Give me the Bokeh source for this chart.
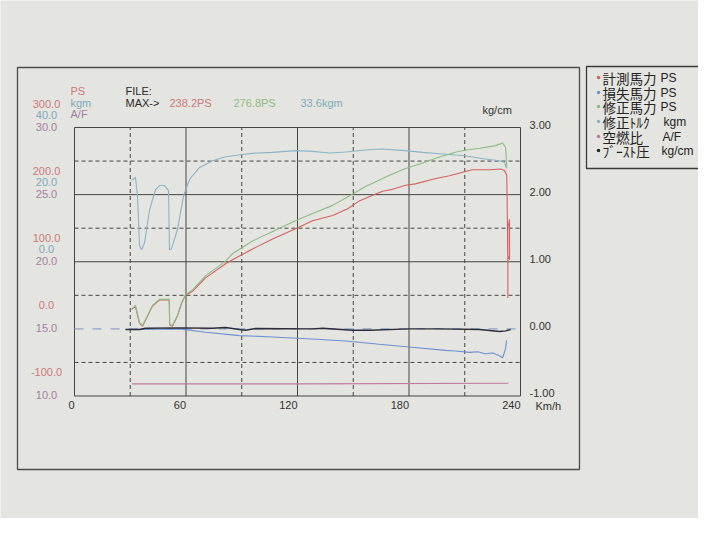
from bokeh.plotting import figure
from bokeh.models import Range1d
from bokeh.core.properties import value
from bokeh.embed import file_html
from bokeh.resources import INLINE

# ---------------- data ----------------
speed_grid = [0, 30, 60, 90, 120, 150, 180, 210, 240]
speed_ticks = [0, 60, 120, 180, 240]
boost_grid = [-1.0, -0.5, 0.0, 0.5, 1.0, 1.5, 2.0, 2.5, 3.0]
boost_ticks = [-1.0, 0.0, 1.0, 2.0, 3.0]
ps_ticks = [300, 200, 100, 0, -100]
kgm_ticks = [40, 20, 0]
af_ticks = [30, 25, 20, 15, 10]

# 計測馬力 (measured PS)
v_meas = [30.7, 32.8, 34.9, 36.6, 39.3, 42.0, 45.7, 48.4, 51.0, 51.2, 52.7, 55.4,
          57.6, 59.7, 63.5, 70.5, 81.3, 85.0, 95.8, 106.6, 118.9, 128.1, 138.9,
          147.0, 153.5, 160.4, 165.8, 171.2, 178.1, 183.5, 192.7, 201.8, 209.9,
          214.2, 223.4, 229.3, 231.4, 232.6, 233.0, 233.1, 234.1, 234.1, 233.2, 233.2]
ps_meas = [29, 34, 9, 4, 19, 34, 43, 43, 43, 6, 4, 19,
           38, 50, 56, 76, 97, 103, 119, 134, 149, 161, 169,
           179, 191, 199, 205, 208, 214, 216, 223, 228, 234,
           237, 237, 238.2, 236, 229, 150, 110, 103, 163, 150, 46]

# 損失馬力 (loss PS)
v_loss = [30.0, 56.5, 70.5, 88.8, 106.6, 128.0, 145.9, 164.0, 180.0, 199.7, 205.0,
          212.6, 217.0, 221.0, 225.0, 228.7, 230.4, 232.0, 232.5]
ps_loss = [-1, 0, -5, -10, -12, -15, -18, -23, -27, -32, -33,
           -35, -34, -37, -36, -40, -43, -29, -17]

# 修正馬力 (corrected PS)
v_corr = [31.2, 32.8, 34.9, 36.6, 39.3, 42.0, 45.7, 48.4, 51.0, 51.2, 52.7, 55.4,
          57.6, 59.7, 63.5, 70.5, 81.3, 85.0, 95.8, 106.6, 118.9, 128.1, 138.9,
          148.5, 156.6, 165.8, 169.5, 178.1, 187.3, 196.4, 205.0, 209.9, 218.0,
          226.6, 230.4, 232.0, 232.6]
ps_corr = [30, 35, 10, 5, 20, 35, 44, 44, 44, 7, 5, 20,
           39, 51, 58, 79, 101, 112, 131, 145, 161, 172, 184,
           199, 212, 224, 229, 239, 247, 256, 263, 266, 269,
           273, 276.8, 270, 240]

# 修正トルク (corrected torque, kgm)
v_torque = [30.7, 32.8, 33.9, 35.0, 36.1, 37.7, 40.4, 43.6, 45.7, 48.4, 50.6, 51.1,
            52.2, 55.4, 58.7, 61.9, 67.3, 74.3, 81.3, 89.3, 95.8, 106.6, 118.9,
            128.1, 137.3, 145.9, 156.6, 165.0, 178.1, 187.3, 196.4, 205.0, 209.9,
            220.0, 228.7, 231.4, 232.5]
kgm_torque = [24.2, 25.1, 19.7, 4.8, 3.6, 5.7, 15.5, 21.5, 22.7, 22.7, 21.2, 3.6,
              3.9, 9.6, 19.7, 24.5, 28.1, 30.1, 31.3, 31.9, 32.3, 32.6, 33.1,
              32.9, 32.4, 32.7, 33.3, 33.6, 33.1, 32.6, 32.2, 31.8, 31.6,
              30.7, 30.1, 29.6, 27.8]

# 空燃比 (A/F)
v_af = [31.0, 120.0, 233.5]
af_val = [10.9, 10.9, 10.95]

# ブースト圧 (boost, kg/cm)
v_boost = [27.4, 35.0, 38.2, 56.5, 74.3, 81.3, 88.8, 92.0, 97.4, 128.0, 133.5,
           149.6, 158.8, 180.3, 196.4, 218.0, 228.7, 232.0, 234.7]
boost = [-0.01, -0.01, 0.01, 0.015, 0.01, 0.02, -0.01, -0.02, 0.005, 0.0, 0.01,
         -0.02, -0.02, 0.0, 0.0, -0.01, -0.04, -0.03, -0.01]

max_texts = ["238.2PS", "276.8PS", "33.6kgm"]
legend_names = ["計測馬力", "損失馬力", "修正馬力", "修正ﾄﾙｸ", "空燃比", "ﾌﾞｰｽﾄ圧"]
legend_units = ["PS", "PS", "PS", "kgm", "A/F", "kg/cm"]

# ---------------- styling / layout ----------------
W, H = 698, 518
BG = "#e4e4e0"
C_MEAS = "#d8605e"
C_LOSS = "#6f8fd0"
C_CORR = "#8cbc84"
C_TORQ = "#8ab4c6"
C_AF = "#c07aa0"
C_BOOST = "#2c2c3a"
T_PS = "#cc7a78"
T_KGM = "#7eaabb"
T_AF = "#a2809e"
GRID = "#444444"
FONT = value("Liberation Sans")
JFONT = value("Noto Sans CJK JP")

# inner plot frame in canvas pixels
FX0, FX1 = 74, 520
FY_TOP, FY_BOT = 127, 395.5
ppx = (FX1 - FX0) / 240.0           # px per km/h
ppy = (FY_BOT - FY_TOP) / 4.0       # px per kg/cm

x_start = -FX0 / ppx
x_end = 240 + (W - FX1) / ppx
y_end = 3 + FY_TOP / ppy
y_start = -1 - (H - FY_BOT) / ppy

p = figure(width=W, height=H, output_backend="svg", toolbar_location=None,
           x_range=Range1d(x_start, x_end), y_range=Range1d(y_start, y_end),
           x_axis_type=None, y_axis_type=None, min_border=0)
p.grid.visible = False
p.outline_line_color = None
p.background_fill_color = BG
p.border_fill_color = BG

p.extra_x_ranges = {"px": Range1d(0, W)}
p.extra_y_ranges = {
    "px": Range1d(H, 0),
    "ps": Range1d(y_start * 100, y_end * 100),
    "kgm": Range1d((y_start - 1) * 20, (y_end - 1) * 20),
    "af": Range1d(15 + 5 * y_start, 15 + 5 * y_end),
}

# outer frame and legend box (page decoration, pixel space)
p.quad(left=[17], right=[579], top=[67], bottom=[469], x_range_name="px", y_range_name="px",
       fill_color=None, line_color="#4a4a4a", line_width=1.3)
p.quad(left=[586], right=[730], top=[66], bottom=[168], x_range_name="px", y_range_name="px",
       fill_color=None, line_color="#3a3a3a", line_width=1.3)

# grid lines
solid_x = [v for v in speed_grid if v % 60 == 0]
dash_x = [v for v in speed_grid if v % 60 != 0]
p.segment(x0=dash_x, x1=dash_x, y0=[-1] * len(dash_x), y1=[3] * len(dash_x),
          line_color=GRID, line_width=1.0, line_dash="4 3")
p.segment(x0=solid_x, x1=solid_x, y0=[-1] * len(solid_x), y1=[3] * len(solid_x),
          line_color=GRID, line_width=1.0)
solid_y = [b for b in boost_grid if b == int(b) and b != 0.0]
dash_y = [b for b in boost_grid if b != int(b)]
p.segment(x0=[0] * len(dash_y), x1=[240] * len(dash_y), y0=dash_y, y1=dash_y,
          line_color=GRID, line_width=1.0, line_dash="4 3")
p.segment(x0=[0] * len(solid_y), x1=[240] * len(solid_y), y0=solid_y, y1=solid_y,
          line_color=GRID, line_width=1.0)
p.segment(x0=[0], x1=[240], y0=[0.0], y1=[0.0], line_color="#8ca4cc", line_width=1.1,
          line_dash="9 9")

# curves
p.line(v_af, af_val, y_range_name="af", line_color=C_AF, line_width=1.1)
p.line(v_loss, ps_loss, y_range_name="ps", line_color=C_LOSS, line_width=1.1)
p.line(v_boost, boost, line_color=C_BOOST, line_width=1.4)
p.line(v_torque, kgm_torque, y_range_name="kgm", line_color=C_TORQ, line_width=1.1)
p.line(v_meas, ps_meas, y_range_name="ps", line_color=C_MEAS, line_width=1.1)
p.line(v_corr, ps_corr, y_range_name="ps", line_color=C_CORR, line_width=1.1)

# bottom tick labels (right aligned at the tick)
p.text(x=speed_ticks, y=[-1] * len(speed_ticks), text=[str(v) for v in speed_ticks],
       text_font=FONT, text_font_size="11px", text_color="#333333",
       text_align="right", text_baseline="middle", y_offset=9)
p.text(x=[535], y=[405], text=["Km/h"], x_range_name="px", y_range_name="px",
       text_font=FONT, text_font_size="11px", text_color="#333333",
       text_baseline="middle")

# right tick labels
p.text(x=[240] * len(boost_ticks), y=boost_ticks, text=["%.2f" % b for b in boost_ticks],
       text_font=FONT, text_font_size="11px", text_color="#333333",
       text_align="left", text_baseline="middle", x_offset=9, y_offset=-3)
p.text(x=[482], y=[109], text=["kg/cm"], x_range_name="px", y_range_name="px",
       text_font=FONT, text_font_size="11px", text_color="#333333",
       text_baseline="middle")

# left stacked tick labels
LX = [46]
p.text(x=LX * len(af_ticks), y=af_ticks, text=["%.1f" % a for a in af_ticks],
       x_range_name="px", y_range_name="af", text_font=FONT, text_font_size="11px",
       text_color=T_AF, text_align="center", text_baseline="middle", y_offset=-1)
p.text(x=LX * len(kgm_ticks), y=kgm_ticks, text=["%.1f" % k for k in kgm_ticks],
       x_range_name="px", y_range_name="kgm", text_font=FONT, text_font_size="11px",
       text_color=T_KGM, text_align="center", text_baseline="middle", y_offset=-13)
p.text(x=LX * len(ps_ticks), y=ps_ticks, text=["%.1f" % s for s in ps_ticks],
       x_range_name="px", y_range_name="ps", text_font=FONT, text_font_size="11px",
       text_color=T_PS, text_align="center", text_baseline="middle", y_offset=-24)

# header
p.text(x=[70, 70, 70], y=[90, 102, 113], text=["PS", "kgm", "A/F"],
       x_range_name="px", y_range_name="px", text_font=FONT, text_font_size="11px",
       text_color=[T_PS, T_KGM, T_AF], text_baseline="middle")
p.text(x=[125, 125], y=[90, 102], text=["FILE:", "MAX->"],
       x_range_name="px", y_range_name="px", text_font=FONT, text_font_size="11px",
       text_color="#2a2a2a", text_baseline="middle")
p.text(x=[169, 233, 300], y=[102, 102, 102], text=max_texts,
       x_range_name="px", y_range_name="px", text_font=FONT, text_font_size="11px",
       text_color=[T_PS, C_CORR, T_KGM], text_baseline="middle")

# legend
rows = [77, 92, 106, 121, 136, 150]
dot_colors = [C_MEAS, C_LOSS, C_CORR, C_TORQ, C_AF, "#222222"]
p.scatter(x=[598] * 6, y=rows, x_range_name="px", y_range_name="px", size=3.5,
          fill_color=dot_colors, line_color=None)
p.text(x=[602] * 6, y=rows, text=legend_names, x_range_name="px", y_range_name="px",
       text_font=JFONT, text_font_size="13.5px", text_color="#222222",
       text_baseline="middle")
p.text(x=[660, 660, 660, 663, 662, 661], y=rows, text=legend_units,
       x_range_name="px", y_range_name="px", text_font=FONT, text_font_size="12px",
       text_color="#222222", text_baseline="middle")

open("out.html", "w").write(file_html(p, INLINE))
